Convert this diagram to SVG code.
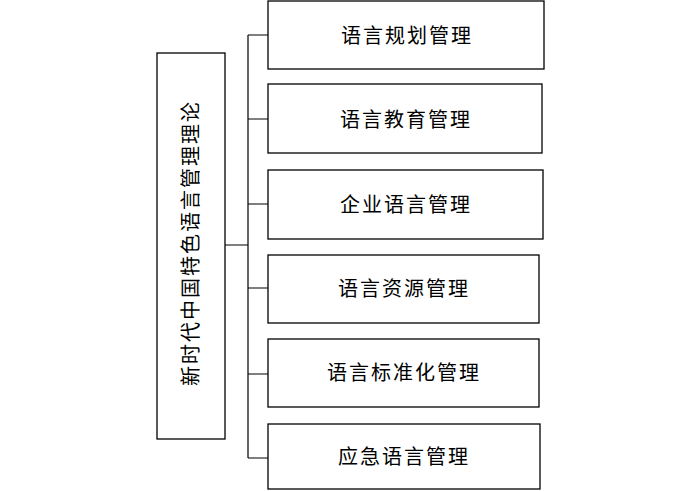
<svg xmlns="http://www.w3.org/2000/svg" width="700" height="491" viewBox="0 0 700 491">
<style>
.box{fill:#fff;stroke:#000;stroke-width:1.3}
.t{font-family:"Liberation Serif","Noto Sans CJK SC",serif;font-size:20px;letter-spacing:2px;fill:#000;text-anchor:middle;dominant-baseline:central}
.c{fill:none;stroke:#000;stroke-width:1.2}
</style>
<rect width="700" height="491" fill="#fff"/>
<g id="connectors">
<path class="c" d="M225,245 H248 M248,35 V458 M248,35 H268 M248,119 H268 M248,204 H268 M248,288 H268 M248,374 H268 M248,458 H268"/>
</g>
<g id="root">
<rect class="box" x="157" y="53" width="68" height="386"/>
<text class="t" transform="translate(191,243) rotate(-90)">新时代中国特色语言管理理论</text>
</g>
<g id="n1">
<rect class="box" x="268" y="1" width="276" height="68"/>
<text class="t" x="407" y="36">语言规划管理</text>
</g>
<g id="n2">
<rect class="box" x="268" y="84" width="274" height="69"/>
<text class="t" x="406" y="120">语言教育管理</text>
</g>
<g id="n3">
<rect class="box" x="268" y="170" width="275" height="69"/>
<text class="t" x="406" y="205">企业语言管理</text>
</g>
<g id="n4">
<rect class="box" x="268" y="255" width="271" height="68"/>
<text class="t" x="404" y="289">语言资源管理</text>
</g>
<g id="n5">
<rect class="box" x="268" y="339" width="271" height="68"/>
<text class="t" x="404" y="373">语言标准化管理</text>
</g>
<g id="n6">
<rect class="box" x="268" y="424" width="272" height="65"/>
<text class="t" x="404" y="457">应急语言管理</text>
</g>
</svg>
